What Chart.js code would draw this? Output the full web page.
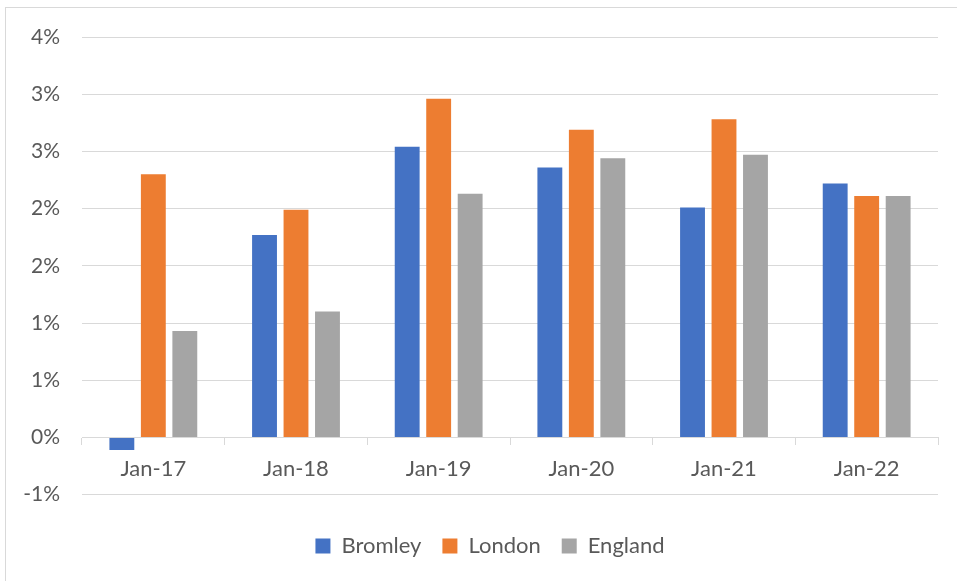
<!DOCTYPE html>
<html>
<head>
<meta charset="utf-8">
<script src="https://cdn.jsdelivr.net/npm/chart.js@4"></script>
<style>
  html, body { margin: 0; padding: 0; background: #fff; }
  #wrap { position: relative; width: 957px; height: 581px; }
  #frame { position: absolute; left: 5px; top: 7px; right: 0; bottom: 0;
           border-top: 1px solid #d9d9d9; border-left: 1px solid #d9d9d9; }
  canvas { position: absolute; left: 0; top: 0; }
</style>
</head>
<body>
<div id="wrap">
  <div id="frame"></div>
  <canvas id="barChart" width="957" height="581"></canvas>
</div>
<script>
const categories = ["Jan-17", "Jan-18", "Jan-19", "Jan-20", "Jan-21", "Jan-22"];
const bromley = [-0.11, 1.77, 2.54, 2.36, 2.01, 2.22];
const london = [2.30, 1.99, 2.96, 2.69, 2.78, 2.11];
const england = [0.93, 1.10, 2.13, 2.44, 2.47, 2.11];
const yTickLabels = ["-1%", "0%", "1%", "1%", "2%", "2%", "3%", "3%", "4%"];

const font = "Lato, 'Open Sans', sans-serif";

// nudge the legend so it is centred under the plot like the original
const legendShift = {
    id: "legendShift",
    afterLayout(chart) {
        chart.legend.left += 16;
        chart.legend.right += 16;
    },
};

const ctx = document.querySelector("#barChart").getContext("2d");
const objBarChart = new Chart(ctx, {
    type: "bar",
    data: {
        labels: categories,
        datasets: [
            { label: "Bromley", data: bromley, backgroundColor: "#4472c4" },
            { label: "London", data: london, backgroundColor: "#ed7d31" },
            { label: "England", data: england, backgroundColor: "#a5a5a5" },
        ],
    },
    options: {
        responsive: false,
        animation: false,
        datasets: {
            bar: { categoryPercentage: 0.662, barPercentage: 0.79 },
        },
        layout: { padding: { top: 37, left: 10, right: 19, bottom: 14 } },
        plugins: {
            tooltip: { enabled: false },
            legend: {
                position: "bottom",
                // empty title only used as a spacer above the legend items
                title: { display: true, text: "", padding: { top: 5, bottom: 0 } },
                labels: {
                    font: { family: font, size: 22 },
                    color: "#595959",
                    boxWidth: 15,
                    boxHeight: 15,
                    padding: 21,
                },
            },
        },
        scales: {
            x: {
                position: { y: 0 },
                grid: { drawOnChartArea: false, offset: true, tickLength: 7, color: "#d9d9d9" },
                border: { color: "#d9d9d9", width: 1 },
                ticks: { font: { family: font, size: 22 }, color: "#595959", padding: 11 },
            },
            y: {
                min: -0.5,
                max: 3.5,
                afterFit: (s) => { s.width = 72; },
                grid: { color: "#d9d9d9", drawTicks: false, lineWidth: 1 },
                border: { display: false },
                ticks: {
                    stepSize: 0.5,
                    padding: 22,
                    font: { family: font, size: 21 },
                    color: "#595959",
                    callback: (v, i) => yTickLabels[i],
                },
            },
        },
    },
    plugins: [legendShift],
});
</script>
</body>
</html>
